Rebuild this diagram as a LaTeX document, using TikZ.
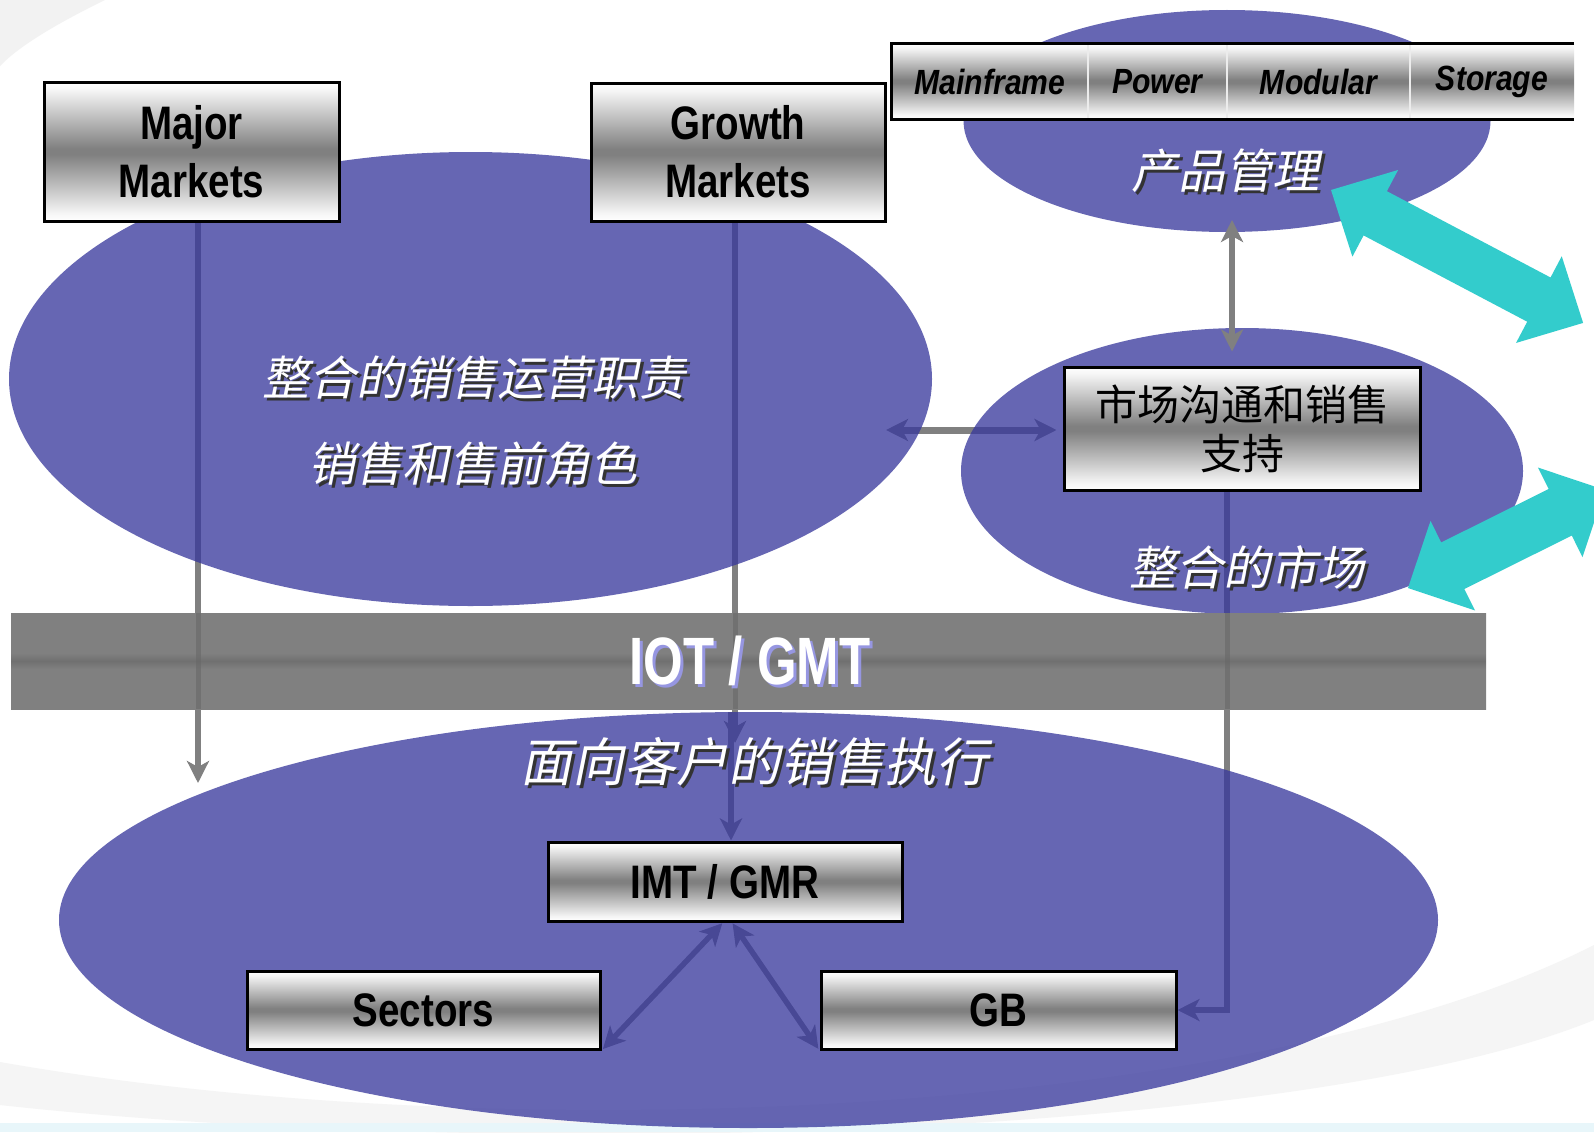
\documentclass[tikz,border=0pt]{standalone}
\usepackage{fontspec}
\usetikzlibrary{arrows.meta,shapes.geometric,calc}
\newfontfamily\nb{Liberation Sans}[FakeStretch=0.82]
\newfontfamily\nbp{Liberation Sans}[FakeStretch=0.86]
\newfontfamily\nbw{Liberation Sans}[FakeStretch=0.76]
\newfontfamily\cjkup{Noto Sans CJK SC}
\newfontfamily\cjki{Noto Sans CJK SC}[FakeSlant=0.2]
\definecolor{ellc}{RGB}{55,55,156}
\definecolor{cyanc}{RGB}{51,204,204}
\definecolor{linec}{RGB}{128,128,128}
\definecolor{glowc}{RGB}{150,150,225}
\definecolor{paleblue}{RGB}{232,246,250}
\pgfdeclareverticalshading{tube}{100bp}{color(0bp)=(white); color(25bp)=(white); color(28bp)=(white!96!black); color(49bp)=(gray); color(51bp)=(gray); color(72bp)=(white!96!black); color(75bp)=(white); color(100bp)=(white)}
\pgfdeclareverticalshading{barsh}{100bp}{color(0bp)=(gray); color(46bp)=(gray); color(50bp)=(gray!88!black); color(54bp)=(gray); color(100bp)=(gray)}
\pgfdeclarelayer{bgl}
\pgfdeclarelayer{lines}
\pgfdeclarelayer{ell}
\pgfdeclarelayer{barl}
\pgfdeclarelayer{barlines}
\pgfdeclarelayer{front}
\pgfsetlayers{bgl,lines,ell,barl,barlines,main,front}
\tikzset{
  tube/.style={draw=black, line width=3pt, shade, shading=tube, inner sep=0pt, align=center,
    font=\nb\bfseries\fontsize{47}{58}\selectfont},
  cell/.style={shade, shading=tube, inner sep=0pt, minimum height=75pt,
    font=\nbp\bfseries\itshape\fontsize{35}{40}\selectfont},
  blob/.style={ellipse, fill=ellc, fill opacity=0.76, inner sep=0pt, draw=none},
  gline/.style={draw=linec, line width=5.5pt},
  barline/.style={draw=black!60, draw opacity=0.55, line width=5pt},
  ctext/.style={text=white, inner sep=0pt, font=\cjki\fontsize{47}{56}\selectfont},
  cshadow/.style={text=black!80, inner sep=0pt, font=\cjki\fontsize{47}{56}\selectfont},
  bigarrow/.style={fill=cyanc, draw=none},
}
\begin{document}
\begin{tikzpicture}[x=1pt,y=-1pt, >={Stealth[length=22pt,width=22pt,inset=6pt]}]
\useasboundingbox (0,0) rectangle (1594,1132);
\clip (0,0) rectangle (1594,1132);

% background
\begin{pgfonlayer}{bgl}
\fill[white] (0,0) rectangle (1594,1132);
\fill[gray!10] (0,0) -- (105,0) .. controls (60,22) and (20,45) .. (0,66) -- cycle;
\fill[gray!8] (0,1062) .. controls (500,1150) and (1250,1120) .. (1594,945) -- (1594,1020) .. controls (1300,1140) and (500,1160) .. (0,1105) -- cycle;
\fill[paleblue] (0,1123) rectangle (1594,1132);
\end{pgfonlayer}

% boxes
\node[tube, minimum width=295pt, minimum height=139pt] (mm) at (191.5,151.5) {Major\\Markets};
\node[tube, minimum width=294pt, minimum height=138pt] (gm) at (738,152) {Growth\\Markets};
\node[tube, minimum width=356pt, minimum height=123pt, font=\cjkup\fontsize{42}{49}\selectfont] (ms) at (1242,428.5) {市场沟通和销售\\支持};
\node[tube, minimum width=354pt, minimum height=79pt] (imt) at (725,881.5) {IMT / GMR};
\node[tube, minimum width=353pt, minimum height=78pt] (sec) at (423.5,1010) {Sectors};
\node[tube, minimum width=355pt, minimum height=78pt] (gb) at (998.5,1010) {GB};

% product bar
\node[cell, minimum width=196pt] (mf) at (990,81.5) {Mainframe};
\node[cell, minimum width=139pt] (pw) at (1157.5,81.5) {Power};
\node[cell, minimum width=183pt] (md) at (1318.5,81.5) {Modular};
\node[cell, minimum width=164pt] (st) at (1492,81.5) {Storage};
\draw[white!85!gray, line width=2pt] (mf.north east) -- (mf.south east);
\draw[white!85!gray, line width=2pt] (pw.north east) -- (pw.south east);
\draw[white!85!gray, line width=2pt] (md.north east) -- (md.south east);
\draw[black, line width=3pt] (st.north east) -- (mf.north west) -- (mf.south west) -- (st.south east);

% ellipses
\begin{pgfonlayer}{ell}
\node[blob, minimum width=923pt, minimum height=454pt] (e1) at (470.5,379) {};
\node[blob, minimum width=527pt, minimum height=222pt] (etop) at (1227,121) {};
\node[blob, minimum width=562pt, minimum height=286pt] (eright) at (1242,471) {};
\node[blob, minimum width=1379pt, minimum height=416pt] (ebot) at (748.5,920) {};
\end{pgfonlayer}

% IOT bar
\begin{pgfonlayer}{barl}
\node[shade, shading=barsh, inner sep=0pt, minimum width=1475pt, minimum height=96pt] (iot) at (748.5,661) {};
\end{pgfonlayer}

% connectors
\coordinate (mmend) at (198,783);
\coordinate (gmmid) at (735,743);
\coordinate (gmlow) at (731,712);
\coordinate (msx) at (1227,0);
\coordinate (hl) at (886,430);
\coordinate (vt) at (1232,220);
\begin{pgfonlayer}{lines}
\draw[gline,->] (mmend |- mm.south) -- (mmend);
\draw[gline,->] (gmmid |- gm.south) -- (gmmid);
\draw[gline,->] (gmlow) -- (gmlow |- imt.north);
\draw[gline,->] (msx |- ms.south) |- (gb.east);
\draw[gline,<->, line width=7pt, shorten >=6pt] (hl) -- (ms.west |- hl);
\draw[gline,<->, shorten <=1pt, shorten >=2pt] ([xshift=-2pt]imt.south) -- (sec.south east);
\draw[gline,<->, shorten <=1pt, shorten >=2pt] ([xshift=7pt]imt.south) -- (gb.south west);
\end{pgfonlayer}
\begin{pgfonlayer}{barlines}
\draw[barline] (mmend |- iot.north) -- (mmend |- iot.south);
\draw[barline] (gmmid |- iot.north) -- (gmmid |- iot.south);
\draw[barline] (msx |- iot.north) -- (msx |- iot.south);
\end{pgfonlayer}

% texts
\node[text=glowc, inner sep=0pt, font=\nbw\bfseries\fontsize{67}{70}\selectfont] (iots) at (753,664) {IOT / GMT};
\node[text=white, inner sep=0pt, font=\nbw\bfseries\fontsize{67}{70}\selectfont] (iott) at (750,661) {IOT / GMT};
\node[cshadow] (t1s) at (477,381) {整合的销售运营职责};
\node[ctext] (t1) at (474,378) {整合的销售运营职责};
\node[cshadow] (t2s) at (476,467) {销售和售前角色};
\node[ctext] (t2) at (473,464) {销售和售前角色};
\node[cshadow] (t3s) at (1228,174) {产品管理};
\node[ctext] (t3) at (1225,171) {产品管理};
\node[cshadow] (t4s) at (1250,570) {整合的市场};
\node[ctext] (t4) at (1247,567) {整合的市场};
\node[cshadow, font=\cjki\fontsize{52}{60}\selectfont] (t5s) at (757,765) {面向客户的销售执行};
\node[ctext, font=\cjki\fontsize{52}{60}\selectfont] (t5) at (754,762) {面向客户的销售执行};

% front
\begin{pgfonlayer}{front}
\draw[gline,<->, line width=6pt, shorten >=14pt] (vt) -- (vt |- ms.north);
\begin{scope}[shift={(1331,190)}, rotate=-27.8]
\fill[bigarrow] (0,0) -- (50,49) -- (50,25) -- (235,25) -- (235,49) -- (285,0) -- (235,-49) -- (235,-25) -- (50,-25) -- (50,-49) -- cycle;
\end{scope}
\begin{scope}[shift={(1408,588)}, rotate=26.45]
\fill[bigarrow] (0,0) -- (50,50) -- (50,26) -- (170,26) -- (170,50) -- (220,0) -- (170,-50) -- (170,-26) -- (50,-26) -- (50,-50) -- cycle;
\end{scope}
\end{pgfonlayer}
\end{tikzpicture}
\end{document}
